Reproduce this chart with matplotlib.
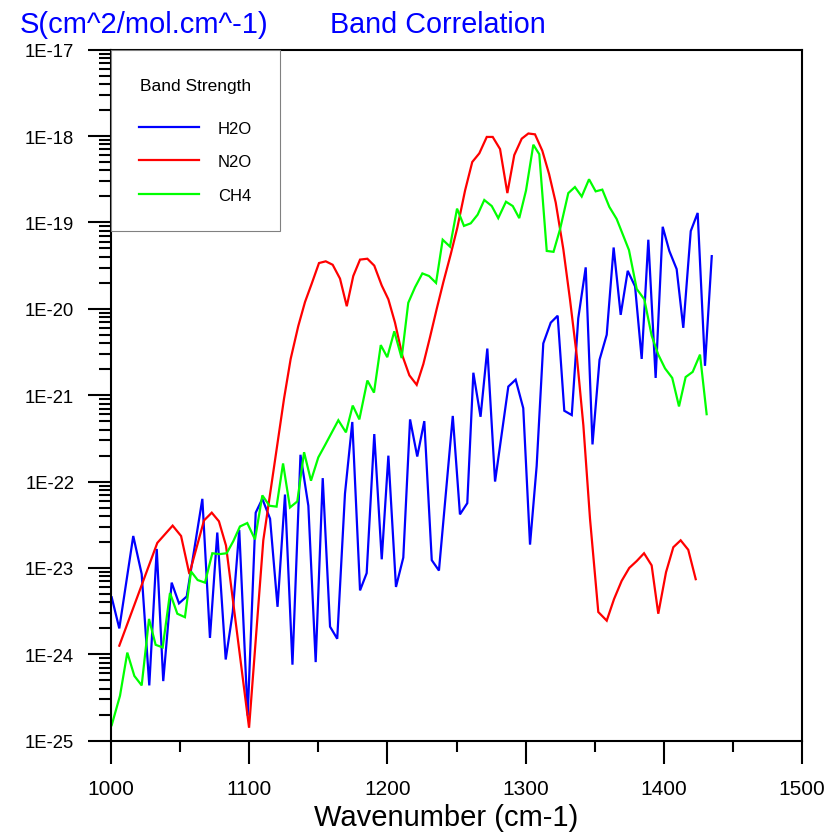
import numpy as np
import matplotlib
matplotlib.use("Agg")
import matplotlib.pyplot as plt
from matplotlib.ticker import FixedLocator, FuncFormatter, NullFormatter

plt.rcParams['font.family'] = ['Liberation Sans', 'DejaVu Sans']

# ---------------- data (wavenumber in cm-1, log10 of band strength) ----------------
h2o_wn = [1000.5, 1006.0, 1016.1, 1022.2, 1027.7, 1033.1, 1037.8, 1043.9, 1049.2, 1054.8,
          1066.1, 1071.6, 1076.9, 1083.0, 1088.1, 1092.8, 1098.9, 1104.7, 1109.5, 1115.1,
          1120.5, 1125.9, 1131.3, 1137.1, 1142.8, 1148.1, 1153.2, 1158.5, 1163.7, 1169.3,
          1174.6, 1180.2, 1185.0, 1190.5, 1195.9, 1200.7, 1206.2, 1211.5, 1216.4, 1221.6,
          1226.7, 1232.1, 1237.3, 1247.3, 1252.5, 1257.8, 1262.2, 1267.4, 1272.3, 1277.9,
          1287.5, 1292.8, 1298.3, 1303.2, 1308.0, 1312.8, 1318.2, 1323.2, 1328.0, 1333.4,
          1338.1, 1343.5, 1348.4, 1353.5, 1358.7, 1363.7, 1368.8, 1373.9, 1379.2, 1384.0,
          1388.8, 1394.1, 1399.2, 1404.0, 1409.3, 1414.1, 1419.5, 1424.5, 1429.8, 1434.7]
h2o_log_s = [-23.34, -23.70, -22.63, -23.07, -24.36, -22.78, -24.31, -23.17, -23.41, -23.33,
             -22.20, -23.81, -22.59, -24.06, -23.51, -22.56, -24.71, -22.36, -22.20, -22.43,
             -23.45, -22.15, -24.12, -21.69, -22.28, -24.09, -21.96, -23.68, -23.82, -22.14,
             -21.31, -23.26, -23.06, -21.45, -22.90, -21.70, -23.22, -22.88, -21.28, -21.71,
             -21.30, -22.91, -23.03, -21.24, -22.38, -22.25, -20.74, -21.25, -20.46, -22.00,
             -20.90, -20.82, -21.15, -22.73, -21.82, -20.40, -20.16, -20.08, -21.18, -21.23,
             -20.11, -19.52, -21.57, -20.59, -20.30, -19.29, -20.07, -19.56, -19.74, -20.58,
             -19.20, -20.80, -19.05, -19.33, -19.54, -20.22, -19.10, -18.89, -20.66, -19.39]

n2o_wn = [1006.0, 1033.5, 1044.6, 1050.7, 1056.7, 1067.3, 1072.9, 1078.1, 1083.2, 1099.9,
          1110.2, 1119.9, 1125.2, 1130.0, 1135.5, 1140.4, 1145.2, 1150.5, 1155.4, 1160.4,
          1165.7, 1170.6, 1175.3, 1180.2, 1185.5, 1190.5, 1195.9, 1200.7, 1205.5, 1210.8,
          1215.9, 1221.2, 1226.0, 1230.8, 1235.7, 1240.5, 1245.8, 1250.6, 1256.2, 1261.4,
          1266.5, 1271.9, 1276.2, 1281.5, 1286.8, 1291.8, 1297.2, 1302.0, 1306.8, 1312.1,
          1317.0, 1321.8, 1327.3, 1332.1, 1337.0, 1341.8, 1346.6, 1352.6, 1358.7, 1364.0,
          1369.5, 1375.0, 1380.4, 1385.7, 1391.2, 1396.0, 1401.6, 1406.9, 1412.2, 1417.7,
          1423.1]
n2o_log_s = [-23.90, -22.71, -22.51, -22.63, -23.07, -22.45, -22.36, -22.46, -22.74, -24.85,
             -22.68, -21.62, -21.04, -20.58, -20.20, -19.92, -19.71, -19.47, -19.45, -19.49,
             -19.65, -19.97, -19.62, -19.43, -19.42, -19.50, -19.73, -19.89, -20.16, -20.54,
             -20.77, -20.88, -20.64, -20.33, -20.00, -19.69, -19.37, -19.06, -18.63, -18.30,
             -18.20, -18.01, -18.01, -18.15, -18.66, -18.22, -18.03, -17.97, -17.98, -18.17,
             -18.44, -18.77, -19.31, -19.89, -20.54, -21.35, -22.43, -23.51, -23.61, -23.36,
             -23.15, -23.00, -22.92, -22.83, -22.97, -23.53, -23.05, -22.76, -22.68, -22.79,
             -23.13]

ch4_wn = [1000.5, 1006.5, 1011.8, 1016.9, 1022.2, 1027.5, 1032.3, 1037.4, 1042.7, 1048.0,
          1053.5, 1057.9, 1062.7, 1068.0, 1073.3, 1078.4, 1083.7, 1088.5, 1093.3, 1098.6,
          1104.2, 1109.5, 1114.7, 1119.8, 1124.5, 1129.5, 1134.8, 1139.7, 1144.7, 1150.0,
          1154.8, 1164.5, 1170.0, 1174.9, 1179.7, 1185.5, 1190.3, 1195.2, 1199.9, 1205.0,
          1210.3, 1215.1, 1220.0, 1225.3, 1230.1, 1235.2, 1240.0, 1245.3, 1250.4, 1255.4,
          1260.3, 1265.3, 1270.1, 1275.5, 1280.2, 1285.8, 1290.7, 1295.4, 1300.3, 1305.6,
          1309.9, 1315.3, 1320.2, 1324.9, 1330.9, 1335.7, 1340.6, 1345.9, 1350.7, 1355.5,
          1360.6, 1365.9, 1374.8, 1380.4, 1385.9, 1391.2, 1396.0, 1400.9, 1406.1, 1411.0,
          1415.8, 1420.9, 1426.2, 1431.0]
ch4_log_s = [-24.82, -24.48, -23.98, -24.25, -24.36, -23.59, -23.89, -23.92, -23.29, -23.53,
             -23.57, -23.04, -23.14, -23.17, -22.83, -22.84, -22.83, -22.69, -22.52, -22.48,
             -22.67, -22.16, -22.28, -22.29, -21.79, -22.30, -22.23, -21.66, -21.99, -21.72,
             -21.58, -21.29, -21.43, -21.12, -21.28, -20.83, -20.97, -20.42, -20.56, -20.26,
             -20.57, -19.93, -19.75, -19.59, -19.62, -19.70, -19.20, -19.28, -18.84, -19.04,
             -19.01, -18.91, -18.74, -18.81, -18.95, -18.76, -18.81, -18.95, -18.63, -18.10,
             -18.21, -19.33, -19.34, -19.08, -18.66, -18.59, -18.70, -18.50, -18.64, -18.62,
             -18.82, -18.96, -19.32, -19.77, -19.89, -20.31, -20.53, -20.69, -20.80, -21.13,
             -20.79, -20.73, -20.53, -21.22]

series_names = ["H2O", "N2O", "CH4"]
series_colors = ["#0000FF", "#FF0000", "#00FF00"]
x_ticks = [1000, 1100, 1200, 1300, 1400, 1500]
y_decades = list(range(-25, -16))

# ---------------- figure ----------------
W = 837
fig = plt.figure(figsize=(W / 100, W / 100), dpi=100)
ax = fig.add_axes([111 / W, 95.3 / W, 691 / W, 691 / W])

for wn, ls, name, col in zip([h2o_wn, n2o_wn, ch4_wn],
                             [h2o_log_s, n2o_log_s, ch4_log_s],
                             series_names, series_colors):
    ax.plot(wn, 10.0 ** np.asarray(ls), color=col, lw=1.6, label=name,
            solid_joinstyle='miter')

ax.set_yscale('log')
ax.set_xlim(1000, 1500)
ax.set_ylim(1e-25, 1e-17)

ax.xaxis.set_major_locator(FixedLocator(x_ticks))
ax.xaxis.set_minor_locator(FixedLocator([t + 50 for t in x_ticks[:-1]]))
ax.yaxis.set_major_locator(FixedLocator([10.0 ** d for d in y_decades]))
minors = [m * 10.0 ** d for d in y_decades[:-1] for m in range(2, 10)]
ax.yaxis.set_minor_locator(FixedLocator(minors))
ax.yaxis.set_major_formatter(FuncFormatter(lambda v, p: "1E%d" % int(round(np.log10(v)))))
ax.yaxis.set_minor_formatter(NullFormatter())

ax.tick_params(axis='both', which='both', direction='out', width=1.5, color='black',
               top=False, right=False)
ax.tick_params(axis='y', which='major', length=16.5, pad=10, labelsize=13.3)
ax.tick_params(axis='y', which='minor', length=9)
ax.tick_params(axis='x', which='major', length=16.5, pad=11, labelsize=15)
ax.tick_params(axis='x', which='minor', length=8)

for s in ax.spines.values():
    s.set_linewidth(1.5)

leg = ax.legend(loc='upper left', bbox_to_anchor=(0, 1), borderaxespad=0,
                title='Band Strength', fontsize=12, title_fontsize=12.5,
                fancybox=False, framealpha=1, edgecolor='#808080',
                borderpad=1.7, labelspacing=1.11, handlelength=3.6,
                handletextpad=1.1)
leg.get_frame().set_linewidth(0.8)
leg._legend_box.sep = 19.8  # gap between title and entries (points)
for line in leg.get_lines():
    line.set_linewidth(1.6)

fig.text(20 / W, 1 - 25 / W, 'S(cm^2/mol.cm^-1)', color='#0000FF', fontsize=21,
         ha='left', va='center')
fig.text(330 / W, 1 - 25 / W, 'Band Correlation', color='#0000FF', fontsize=20.7,
         ha='left', va='center')
fig.text(446.5 / W, 1 - 818 / W, 'Wavenumber (cm-1)', color='black', fontsize=21,
         ha='center', va='center')

fig.savefig('out.png', dpi=100)
